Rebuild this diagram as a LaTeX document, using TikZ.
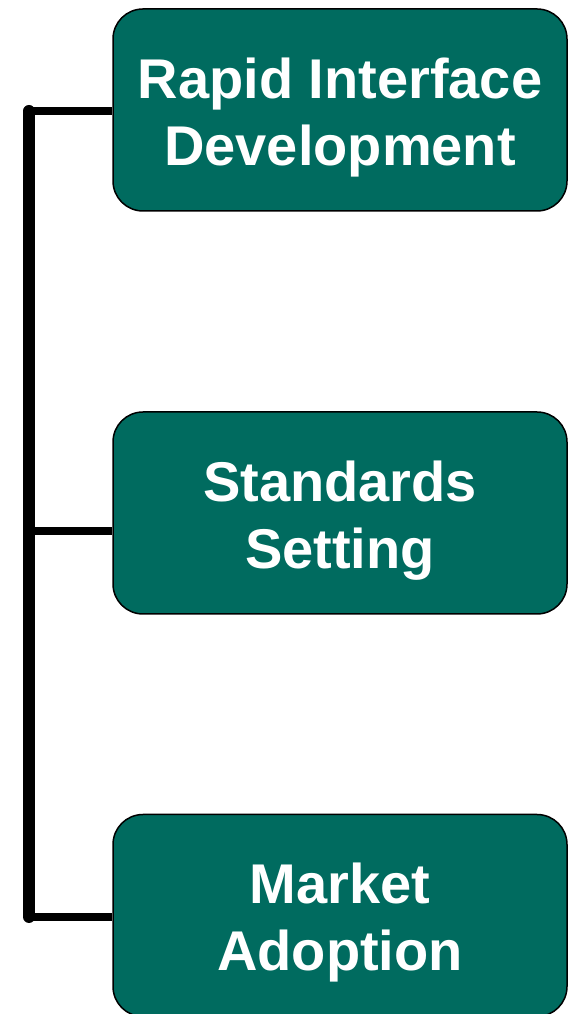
\documentclass[tikz,border=0pt]{standalone}
\usepackage{fontspec}
\setmainfont{Liberation Sans}
\definecolor{stagegreen}{RGB}{0,107,95}
\newcommand\stagepad{\rule{0pt}{55pt}}

\begin{document}
\begin{tikzpicture}[x=1pt,y=1pt,
  stage/.style={draw=black,line width=1.5pt,fill=stagegreen,rounded corners=30pt,
    minimum width=454pt,minimum height=202pt,text=white,align=center,
    font=\fontsize{56}{67}\selectfont\bfseries},
  spine/.style={line width=12pt,line cap=round},
  branch/.style={line width=8pt}]

  \useasboundingbox (0,0) rectangle (571,1014);

  % stages
  \node [stage] (s-rid) at (340,904) {\stagepad Rapid Interface\\Development};
  \node [stage] (s-std) at (340,501) {\stagepad Standards\\Setting};
  \node [stage] (s-mkt) at (340,98.5) {\stagepad Market\\Adoption};

  % spine on the left
  \coordinate (sp-rid) at (29,903);
  \coordinate (sp-std) at (29,483);
  \coordinate (sp-mkt) at (29,97);

  \draw [spine] (sp-rid) -- (sp-mkt);
  \draw [branch]
    (sp-rid) -- (sp-rid -| s-rid.west)
    (sp-std) -- (sp-std -| s-std.west)
    (sp-mkt) -- (sp-mkt -| s-mkt.west);
\end{tikzpicture}
\end{document}
